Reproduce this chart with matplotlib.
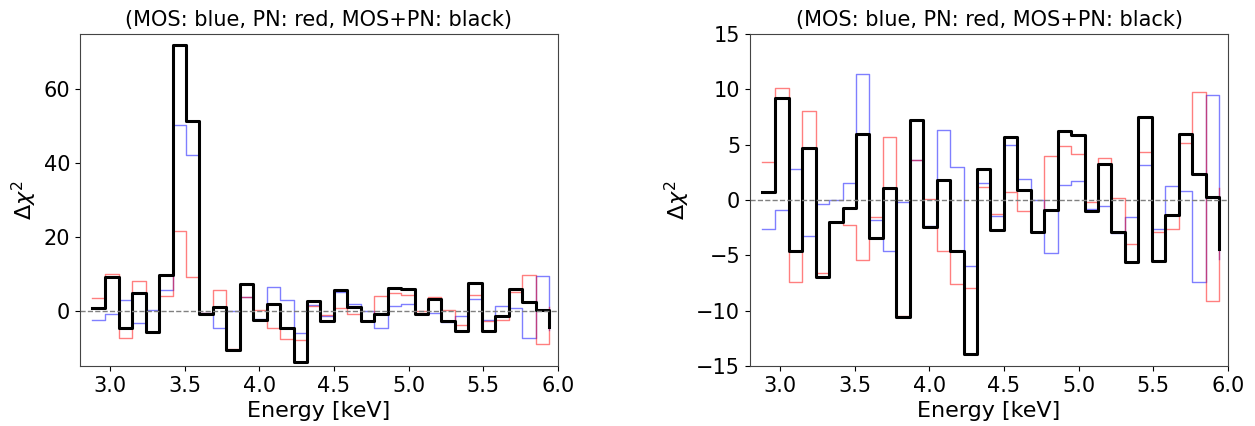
import matplotlib
matplotlib.use("Agg")
import matplotlib.pyplot as plt

# bin lower edges in keV (last entry closes the final step)
energy = [2.88, 2.97, 3.06, 3.15, 3.24, 3.33, 3.42, 3.51, 3.60, 3.69,
          3.78, 3.87, 3.96, 4.05, 4.14, 4.23, 4.32, 4.41, 4.50, 4.59,
          4.68, 4.77, 4.86, 4.95, 5.04, 5.13, 5.22, 5.31, 5.40, 5.49,
          5.58, 5.67, 5.76, 5.85, 5.94]

# left panel: delta chi^2 including the 3.5 keV feature
mos_left = [-2.65, -0.9, 2.77, -3.25, 0.1, 5.6, 50.3, 42.2, -0.6, -4.58,
            -0.18, 3.6, -2.36, 6.32, 3.0, -5.96, 1.56, -1.46, 5.0, 1.9,
            0.0, -4.82, 1.39, 1.75, -0.78, -0.57, -3.0, -1.57, 3.19, -2.6,
            1.27, 0.78, -7.38, 9.47, -5.35]
pn_left = [3.4, 10.08, -7.43, 8.0, -5.8, 3.95, 21.6, 9.1, -0.5, 5.66,
           -10.48, 3.62, 0.12, -4.58, -7.6, -7.95, 1.2, -1.26, 0.69, -1.0,
           -2.88, 3.95, 4.88, 4.18, -0.18, 3.83, 0.15, -4.0, 4.33, -2.89,
           -2.62, 5.18, 9.76, -9.13, 1.05]
both_left = [0.75, 9.2, -4.65, 4.72, -5.7, 9.6, 72.0, 51.5, -1.0, 1.1,
             -10.6, 7.27, -2.4, 1.78, -4.6, -13.88, 2.76, -2.73, 5.7, 0.89,
             -2.88, -0.9, 6.27, 5.92, -0.95, 3.26, -2.87, -5.59, 7.5, -5.47,
             -1.38, 5.96, 2.35, 0.3, -4.4]

# right panel: residuals after the line is modelled
mos_right = [-2.65, -0.9, 2.77, -3.25, -0.36, 0.0, 1.56, 11.38, -1.84, -4.58,
             -0.18, 3.6, -2.36, 6.32, 3.0, -5.96, 1.56, -1.46, 5.0, 1.9,
             0.0, -4.82, 1.39, 1.75, -0.78, -0.57, -3.0, -1.57, 3.19, -2.6,
             1.27, 0.78, -7.38, 9.47, -5.35]
pn_right = [3.4, 10.08, -7.43, 8.0, -6.6, -2.0, -2.22, -5.42, -1.57, 5.66,
            -10.48, 3.62, 0.12, -4.58, -7.6, -7.95, 1.2, -1.26, 0.69, -1.0,
            -2.88, 3.95, 4.88, 4.18, -0.18, 3.83, 0.15, -4.0, 4.33, -2.89,
            -2.62, 5.18, 9.76, -9.13, 1.05]
both_right = [0.75, 9.2, -4.65, 4.72, -7.0, -2.0, -0.7, 5.98, -3.43, 1.1,
              -10.6, 7.27, -2.4, 1.78, -4.6, -13.88, 2.76, -2.73, 5.7, 0.89,
              -2.88, -0.9, 6.27, 5.92, -0.95, 3.26, -2.87, -5.59, 7.5, -5.47,
              -1.38, 5.96, 2.35, 0.3, -4.4]

title = "(MOS: blue, PN: red, MOS+PN: black)"

fig = plt.figure(figsize=(12.55, 4.26), dpi=100)
ax1 = fig.add_axes([0.0637, 0.1408, 0.3809, 0.7793])
ax2 = fig.add_axes([0.5976, 0.1408, 0.3809, 0.7793])


def draw_panel(ax, mos, pn, both, ylim):
    ax.step(energy, mos, where="post", color="blue", alpha=0.5, lw=1)
    ax.step(energy, pn, where="post", color="red", alpha=0.5, lw=1)
    ax.step(energy, both, where="post", color="black", lw=2.2)
    ax.axhline(0, color="gray", ls="--", lw=1)
    ax.set_xlim(2.8, 6.0)
    ax.set_ylim(*ylim)
    ax.set_xlabel("Energy [keV]", fontsize=16)
    ax.set_ylabel(r"$\Delta\chi^2$", fontsize=16, labelpad=3)
    ax.set_title(title, fontsize=15)
    ax.tick_params(labelsize=15)
    for sp in ax.spines.values():
        sp.set_color("#444444")


draw_panel(ax1, mos_left, pn_left, both_left, (-15, 75))
draw_panel(ax2, mos_right, pn_right, both_right, (-15, 15))

fig.savefig("out.png", dpi=100)
